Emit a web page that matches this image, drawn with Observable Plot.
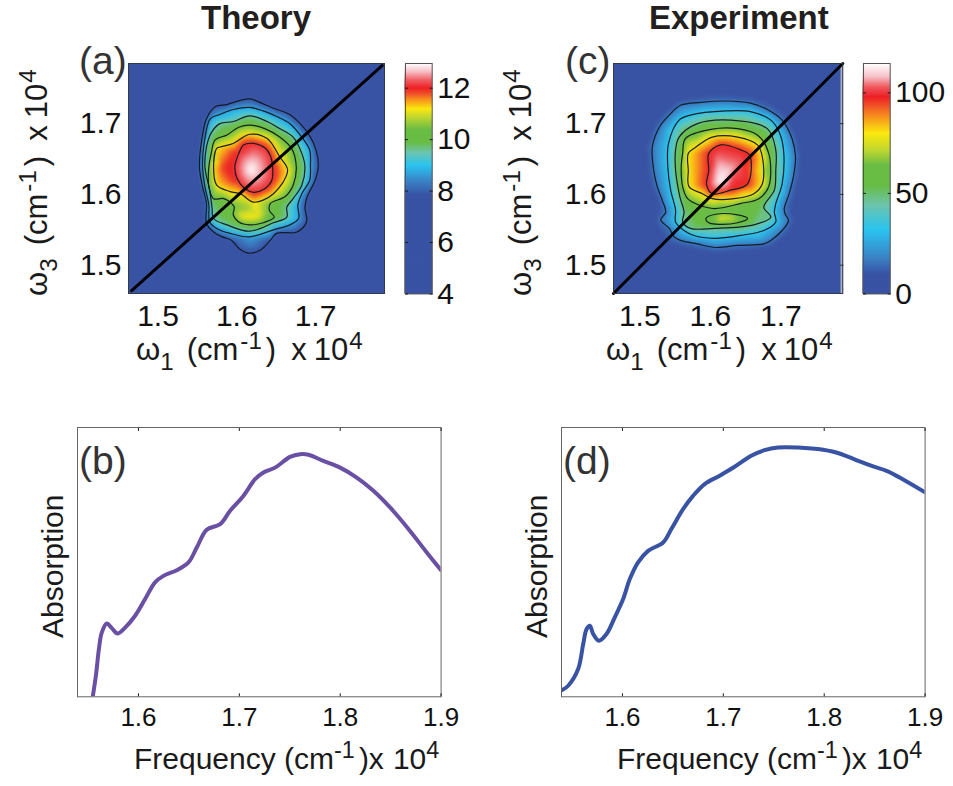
<!DOCTYPE html>
<html>
<head>
<meta charset="utf-8">
<script src="https://cdn.jsdelivr.net/npm/d3@7"></script>
<script src="https://cdn.jsdelivr.net/npm/@observablehq/plot@0.6"></script>
<style>
html,body{margin:0;padding:0;background:#fff}
#page{position:relative;width:953px;height:786px;overflow:hidden;font-family:"Liberation Sans",Arial,sans-serif;color:#1a1a1a}
#page svg{position:absolute;background:transparent;overflow:visible;max-width:none}
.t{position:absolute;white-space:nowrap;line-height:1}
.u{font-size:.78em;position:relative;top:-.45em}
.d{font-size:.78em;position:relative;top:.42em}
</style>
</head>
<body>
<div id="page"></div>
<script>
// ---------- shared axis values (in units of 10^4 cm^-1)
const heatDomain = [1.46, 1.785];
const heatTicks = [1.5, 1.6, 1.7];
const specDomain = [1.5396, 1.9];
const specTicks = [1.6, 1.7, 1.8, 1.9];
const palette = ["#3953a4","#3953a4","#3a88c8","#2ac4f0","#6cc5b0","#69bd45","#69bd45","#c4d82e","#fbe90f","#f7941d","#f15a29","#ed2024","#ef5a60","#f7c0c8","#ffffff"];

// ---------- (a) theory: colour stops and contour lines
const theoryStops = [4,7.85,8.45,9.0,9.5,9.9,10.4,10.9,11.2,11.55,11.75,12.0,12.3,12.65,12.96];
const theoryTicks = [4,6,8,10,12];
const theoryLevels = [7.85,8.7,9.55,10.4,11.25,12.1];
const theoryL1 = [[1.570,1.724],[1.585,1.727],[1.602,1.733],[1.614,1.735],[1.629,1.729],[1.646,1.721],[1.663,1.714],[1.678,1.700],[1.691,1.681],[1.698,1.663],[1.701,1.641],[1.697,1.620],[1.687,1.597],[1.684,1.582],[1.686,1.561],[1.674,1.547],[1.648,1.545],[1.640,1.535],[1.627,1.521],[1.612,1.517],[1.600,1.524],[1.591,1.535],[1.579,1.540],[1.568,1.547],[1.559,1.559],[1.559,1.587],[1.554,1.611],[1.550,1.639],[1.553,1.677],[1.559,1.707]];
const theoryL2 = [[1.564,1.707],[1.576,1.713],[1.593,1.720],[1.614,1.723],[1.631,1.718],[1.648,1.710],[1.665,1.700],[1.680,1.681],[1.690,1.663],[1.691,1.641],[1.690,1.620],[1.680,1.601],[1.675,1.585],[1.676,1.566],[1.665,1.557],[1.644,1.550],[1.614,1.540],[1.589,1.545],[1.572,1.552],[1.563,1.561],[1.562,1.585],[1.557,1.611],[1.554,1.639],[1.556,1.672]];
const theoryL3 = [[1.565,1.687],[1.576,1.700],[1.593,1.703],[1.614,1.711],[1.636,1.703],[1.652,1.693],[1.669,1.681],[1.680,1.658],[1.684,1.639],[1.680,1.613],[1.669,1.594],[1.661,1.582],[1.661,1.568],[1.644,1.560],[1.614,1.548],[1.585,1.557],[1.568,1.566],[1.566,1.582],[1.563,1.606],[1.557,1.639],[1.559,1.667]];
const theoryL4 = [[1.565,1.658],[1.570,1.677],[1.585,1.684],[1.600,1.695],[1.614,1.698],[1.633,1.693],[1.652,1.681],[1.667,1.665],[1.673,1.639],[1.669,1.613],[1.659,1.597],[1.640,1.587],[1.639,1.577],[1.645,1.568],[1.631,1.560],[1.614,1.557],[1.600,1.561],[1.593,1.571],[1.594,1.583],[1.581,1.594],[1.568,1.594],[1.562,1.611],[1.562,1.639]];
const theoryL5 = [[1.576,1.667],[1.593,1.672],[1.614,1.685],[1.636,1.679],[1.652,1.653],[1.662,1.634],[1.644,1.601],[1.619,1.589],[1.602,1.601],[1.589,1.604],[1.572,1.613],[1.568,1.639],[1.572,1.665]];
const theoryL6 = [[1.606,1.670],[1.619,1.672],[1.633,1.666],[1.640,1.655],[1.643,1.637],[1.642,1.620],[1.633,1.608],[1.619,1.603],[1.608,1.608],[1.598,1.622],[1.595,1.639],[1.600,1.658]];
const theorySpots = [[1.6153,1.6352,12.96],[1.614,1.568,11.25],[1.603,1.568,11.1],[1.625,1.568,11.1],[1.614,1.582,10.7],[1.579,1.637,11.85],[1.652,1.637,11.65],[1.46,1.46,4],[1.46,1.785,4],[1.785,1.46,4],[1.785,1.785,4]];

// ---------- (c) experiment
const expStops = [0,10,19,32,44,54,64,72,80,88,93,98,103,108,114.6];
const expTicks = [0,50,100];
const expLevels = [16,32,48,64,80,98];
const expL1 = [[1.539,1.712],[1.555,1.726],[1.584,1.730],[1.619,1.732],[1.654,1.729],[1.680,1.719],[1.699,1.705],[1.713,1.679],[1.718,1.653],[1.715,1.625],[1.709,1.601],[1.702,1.580],[1.703,1.573],[1.708,1.563],[1.699,1.549],[1.683,1.535],[1.673,1.530],[1.636,1.528],[1.605,1.525],[1.579,1.530],[1.555,1.535],[1.546,1.540],[1.539,1.552],[1.527,1.564],[1.534,1.575],[1.529,1.592],[1.522,1.611],[1.517,1.634],[1.515,1.667],[1.525,1.695]];
const expL2 = [[1.553,1.705],[1.569,1.712],[1.619,1.718],[1.654,1.717],[1.683,1.705],[1.695,1.688],[1.701,1.663],[1.699,1.615],[1.690,1.587],[1.688,1.575],[1.690,1.561],[1.673,1.549],[1.640,1.542],[1.603,1.538],[1.574,1.542],[1.560,1.549],[1.548,1.561],[1.548,1.578],[1.541,1.606],[1.537,1.639],[1.538,1.672]];
const expL3 = [[1.553,1.681],[1.579,1.700],[1.626,1.705],[1.678,1.693],[1.690,1.663],[1.690,1.634],[1.688,1.606],[1.673,1.582],[1.683,1.568],[1.659,1.557],[1.603,1.552],[1.569,1.552],[1.558,1.561],[1.560,1.575],[1.554,1.597],[1.548,1.634],[1.548,1.663]];
const expL4 = [[1.558,1.658],[1.562,1.679],[1.598,1.692],[1.636,1.693],[1.664,1.684],[1.680,1.658],[1.680,1.611],[1.666,1.594],[1.640,1.587],[1.603,1.580],[1.581,1.585],[1.565,1.594],[1.558,1.611],[1.556,1.639]];
const expL4b = [[1.591,1.566],[1.605,1.572],[1.636,1.571],[1.650,1.566],[1.636,1.560],[1.605,1.558],[1.595,1.560]];
const expL5 = [[1.566,1.658],[1.577,1.667],[1.600,1.681],[1.636,1.681],[1.664,1.670],[1.671,1.653],[1.671,1.615],[1.659,1.601],[1.631,1.594],[1.600,1.594],[1.586,1.601],[1.567,1.611],[1.566,1.634]];
const expL6 = [[1.595,1.658],[1.612,1.670],[1.640,1.663],[1.653,1.655],[1.650,1.615],[1.626,1.606],[1.600,1.601],[1.592,1.613],[1.595,1.634]];
const expOuter = [[1.532,1.717],[1.552,1.733],[1.584,1.738],[1.619,1.740],[1.656,1.737],[1.684,1.727],[1.705,1.711],[1.720,1.682],[1.726,1.653],[1.723,1.623],[1.717,1.598],[1.712,1.575],[1.716,1.562],[1.706,1.543],[1.688,1.528],[1.636,1.520],[1.605,1.517],[1.575,1.522],[1.540,1.530],[1.528,1.545],[1.519,1.564],[1.524,1.590],[1.514,1.611],[1.509,1.634],[1.507,1.667],[1.517,1.698]];
const expSpots = [[1.612,1.619,114.6],[1.636,1.644,104],[1.607,1.653,104],[1.612,1.566,76],[1.625,1.566,74],[1.619,1.579,58],[1.579,1.634,88],[1.661,1.634,88],[1.46,1.46,0],[1.46,1.785,0],[1.785,1.46,0],[1.785,1.785,0],...expOuter.map(([x,y]) => [x,y,9])];

// ---------- (b) theory absorption
const theoryFreq = [1.5547,1.558,1.561,1.5637,1.5686,1.5736,1.5792,1.5868,1.5967,1.6066,1.6165,1.6248,1.638,1.6496,1.6578,1.6677,1.681,1.6909,1.704,1.7156,1.7239,1.7354,1.7503,1.7602,1.7685,1.7833,1.7999,1.8164,1.8329,1.8494,1.8692,1.8858,1.9];
const theoryAbs = [0,0.084,0.183,0.239,0.272,0.255,0.235,0.257,0.301,0.363,0.425,0.449,0.470,0.499,0.554,0.620,0.641,0.691,0.746,0.808,0.833,0.851,0.891,0.901,0.899,0.876,0.851,0.814,0.765,0.703,0.616,0.536,0.470];

// ---------- (d) experimental absorption
const expFreq = [1.5403,1.5462,1.5561,1.5611,1.5644,1.5677,1.571,1.5766,1.5842,1.5924,1.6007,1.6073,1.6155,1.6254,1.6403,1.6485,1.6601,1.67,1.6815,1.6964,1.7112,1.7277,1.7409,1.7541,1.7739,1.7937,1.8119,1.83,1.8465,1.863,1.8795,1.9];
const expAbs = [0.025,0.041,0.103,0.196,0.251,0.264,0.233,0.208,0.233,0.295,0.363,0.437,0.499,0.542,0.573,0.623,0.697,0.746,0.790,0.821,0.854,0.895,0.916,0.926,0.926,0.920,0.907,0.882,0.858,0.837,0.804,0.759];

const page = document.getElementById("page");
const fontFamily = '"Liberation Sans",Arial,sans-serif';

function place(svg, left, top) {
  svg.style.left = left + "px";
  svg.style.top = top + "px";
  page.appendChild(svg);
}
function text(html, left, top, size, extra = "") {
  const d = document.createElement("div");
  d.className = "t";
  d.innerHTML = html;
  d.style.cssText = `left:${left}px;top:${top}px;font-size:${size}px;${extra}`;
  page.appendChild(d);
  return d;
}

function heatmap({contours, levels, spots, stops, frameW, left, strip}) {
  const lines = contours.flatMap((c, i) => c.pts.map(([x, y]) => ({x, y, id: i})));
  const field = [
    ...contours.flatMap(c => c.pts.map(([x, y]) => ({x, y, v: levels[c.level]}))),
    ...spots.map(([x, y, v]) => ({x, y, v}))
  ];
  const mL = 60, mB = 50, mT = 4, mR = 4;
  const plot = Plot.plot({
    width: frameW + mL + mR, height: 230 + mT + mB,
    marginLeft: mL, marginRight: mR, marginTop: mT, marginBottom: mB,
    style: {fontFamily, background: "transparent"},
    x: {domain: heatDomain, label: null},
    y: {domain: heatDomain, label: null},
    color: {type: "linear", domain: stops, range: palette, clamp: true},
    marks: [
      Plot.raster(field, {x: "x", y: "y", fill: "v", interpolate: "barycentric",
        x1: heatDomain[0], x2: heatDomain[1], y1: heatDomain[0], y2: heatDomain[1], pixelSize: 1, blur: 1.5}),
      ...(strip ? [Plot.rect([{x1: 1.7825, x2: 1.785, y1: 1.46, y2: 1.785}], {x1: "x1", x2: "x2", y1: "y1", y2: "y2", fill: "#aeb4c4"})] : []),
      Plot.line(lines, {x: "x", y: "y", z: "id", curve: "catmull-rom-closed", stroke: "#101822", strokeWidth: 1.2, strokeOpacity: 0.95}),
      Plot.line(heatDiagonal(strip), {x: "x", y: "y", stroke: "#000", strokeWidth: 3}),
      Plot.frame({stroke: "#333a48", strokeWidth: 1}),
      Plot.axisX({ticks: heatTicks, tickFormat: ".1f", tickSize: 0, tickPadding: 11, fontSize: 30, fill: "#111", label: null, dx: -2}),
      Plot.axisY({ticks: heatTicks, tickFormat: ".1f", tickSize: 0, tickPadding: 7, fontSize: 30, fill: "#111", label: null}),
      ...(strip ? [Plot.axisY({anchor: "right", ticks: heatTicks, tickSize: -3, tickFormat: () => "", label: null, stroke: "#222"})] : [])
    ]
  });
  place(plot, left - mL, 63.3 - mT);
}
function heatDiagonal(full) {
  return full
    ? [{x: 1.46, y: 1.46}, {x: 1.785, y: 1.785}]
    : [{x: 1.464, y: 1.464}, {x: 1.782, y: 1.782}];
}

function colorbar({stops, ticks, left}) {
  const ramp = d3.range(0, 230).map(i => {
    const a = stops[0] + (stops[stops.length - 1] - stops[0]) * i / 230;
    const b = stops[0] + (stops[stops.length - 1] - stops[0]) * (i + 1) / 230;
    return {a, b};
  });
  const mT = 4, mB = 20, mR = 70, w = 26.7;
  const plot = Plot.plot({
    width: w + mR, height: 230.5 + mT + mB,
    marginLeft: 0, marginRight: mR, marginTop: mT, marginBottom: mB,
    style: {fontFamily, background: "transparent"},
    x: {axis: null, domain: [0, 1]},
    y: {domain: [stops[0], stops[stops.length - 1]], label: null},
    color: {type: "linear", domain: stops, range: palette, clamp: true},
    marks: [
      Plot.rect(ramp, {x1: () => 0, x2: () => 1, y1: "a", y2: "b", fill: d => (d.a + d.b) / 2, stroke: d => (d.a + d.b) / 2, strokeWidth: 1}),
      Plot.frame({stroke: "#555", strokeWidth: 1}),
      Plot.axisY({anchor: "left", ticks, tickSize: -3, tickFormat: () => "", label: null}),
      Plot.axisY({anchor: "right", ticks, tickSize: 0, tickPadding: 5, fontSize: 30, fill: "#111", label: null}),
      Plot.axisY({anchor: "right", ticks, tickSize: -3, tickFormat: () => "", label: null})
    ]
  });
  place(plot, left, 63.3 - mT);
}

function spectrum({freq, abs, color, sw, left}) {
  const rows = freq.map((f, i) => ({f, a: abs[i]}));
  const mL = 4, mB = 50, mT = 4, mR = 30, w = 363.6, h = 269.3;
  const plot = Plot.plot({
    width: w + mL + mR, height: h + mT + mB,
    marginLeft: mL, marginRight: mR, marginTop: mT, marginBottom: mB,
    style: {fontFamily, background: "transparent"},
    x: {domain: specDomain, label: null},
    y: {axis: null, domain: [0, 1]},
    marks: [
      Plot.line(rows, {x: "f", y: "a", curve: "catmull-rom", stroke: color, strokeWidth: sw, clip: "frame"}),
      Plot.frame({stroke: "#666", strokeWidth: 1}),
      Plot.axisX({ticks: specTicks, tickFormat: ".1f", tickSize: 0, tickPadding: 11, fontSize: 26, fill: "#111", label: null}),
      Plot.axisX({ticks: specTicks, tickSize: -3, tickFormat: () => "", label: null}),
      Plot.axisX({anchor: "top", ticks: specTicks, tickSize: -3, tickFormat: () => "", label: null})
    ]
  });
  place(plot, left - mL, 426.7 - mT);
}

heatmap({
  contours: [theoryL1, theoryL2, theoryL3, theoryL4, theoryL5, theoryL6].map((pts, level) => ({pts, level})),
  levels: theoryLevels, spots: theorySpots, stops: theoryStops, frameW: 256, left: 128.3, strip: false
});
heatmap({
  contours: [[expL1,0],[expL2,1],[expL3,2],[expL4,3],[expL4b,3],[expL5,4],[expL6,5]].map(([pts, level]) => ({pts, level})),
  levels: expLevels, spots: expSpots, stops: expStops, frameW: 229.3, left: 612.7, strip: true
});
colorbar({stops: theoryStops, ticks: theoryTicks, left: 405});
colorbar({stops: expStops, ticks: expTicks, left: 862.7});
spectrum({freq: theoryFreq, abs: theoryAbs, color: "#6a50a5", sw: 4, left: 77.3});
spectrum({freq: expFreq, abs: expAbs, color: "#3953a4", sw: 4, left: 560.7});

// ---------- titles and panel letters
text("Theory", 201, 1, 33, "font-weight:700;color:#231f20");
text("Experiment", 649, 1, 33, "font-weight:700;color:#231f20");
text("(a)", 79, 41, 39, "color:#333");
text("(c)", 565, 41, 39, "color:#333");
text("(b)", 79, 441, 39, "color:#333");
text("(d)", 563, 441, 39, "color:#333");

// ---------- axis titles
const gap = n => `<span style="display:inline-block;width:${n}px"></span>`;
const omegaLabel = n => `ω<span class="d">${n}</span>${gap(13)}(cm${gap(2)}<span class="u">-1</span>${gap(4)})${gap(15)}x${gap(7)}10${gap(1)}<span class="u">4</span>`;
const freqX = `Frequency (cm<span class="u">-1</span>${gap(4)})x${gap(9)}10<span class="u">4</span>`;
text(omegaLabel(1), 136, 334, 31);
text(omegaLabel(1), 606, 334, 31);
const rot = "transform-origin:0 0;transform:rotate(-90deg);";
text(omegaLabel(3), 21, 296, 31, rot);
text(omegaLabel(3), 505, 296, 31, rot);
text(freqX, 134, 744, 30);
text(freqX, 617, 744, 30);
text("Absorption", 38, 638, 30, rot);
text("Absorption", 522, 638, 30, rot);
</script>
</body>
</html>
